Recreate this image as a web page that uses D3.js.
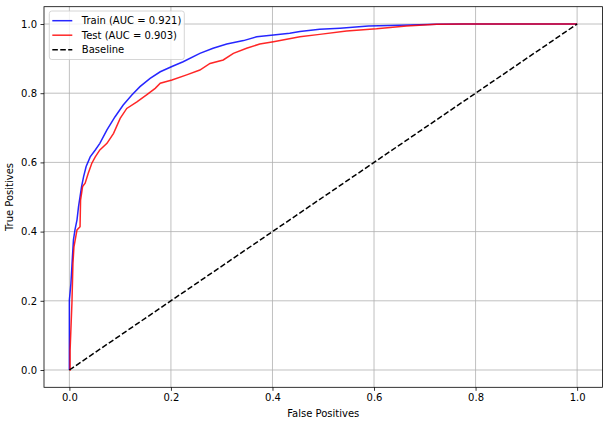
<!DOCTYPE html>
<html>
<head>
<meta charset="utf-8">
<script src="https://cdn.jsdelivr.net/npm/d3@7"></script>
<style>
  body { margin: 0; background: #fff; }
  text { font-family: "DejaVu Sans", sans-serif; font-size: 10px; fill: #000; }
</style>
</head>
<body>
<div id="chart"></div>
<script>
// ROC curves: [false positive rate, true positive rate]
var trainFpr = [0, 0.0, 0.0, 0.003, 0.006, 0.008, 0.011, 0.015, 0.018, 0.021, 0.024, 0.028, 0.033, 0.041, 0.051, 0.06, 0.074, 0.09, 0.106, 0.123, 0.139, 0.159, 0.179, 0.202, 0.224, 0.257, 0.283, 0.31, 0.343, 0.369, 0.402, 0.434, 0.454, 0.493, 0.533, 0.589, 0.671, 0.723, 0.776, 1.0]
var trainTpr = [0, 0.108, 0.202, 0.25, 0.327, 0.376, 0.405, 0.434, 0.472, 0.501, 0.53, 0.559, 0.588, 0.616, 0.636, 0.655, 0.694, 0.732, 0.766, 0.795, 0.819, 0.843, 0.862, 0.877, 0.891, 0.915, 0.93, 0.942, 0.952, 0.963, 0.968, 0.973, 0.978, 0.985, 0.988, 0.994, 0.997, 0.999, 1.0, 1.0]

var testFpr = [0, 0.0014, 0.0014, 0.005, 0.007, 0.009, 0.015, 0.021, 0.022, 0.026, 0.031, 0.037, 0.044, 0.051, 0.06, 0.074, 0.087, 0.1, 0.113, 0.133, 0.152, 0.169, 0.179, 0.202, 0.231, 0.257, 0.277, 0.303, 0.323, 0.349, 0.375, 0.402, 0.428, 0.454, 0.493, 0.546, 0.605, 0.664, 0.723, 0.776, 1.0]
var testTpr = [0, 0.0, 0.058, 0.193, 0.308, 0.356, 0.405, 0.414, 0.491, 0.53, 0.54, 0.568, 0.597, 0.616, 0.636, 0.655, 0.684, 0.727, 0.756, 0.775, 0.795, 0.814, 0.829, 0.838, 0.853, 0.867, 0.886, 0.896, 0.915, 0.93, 0.942, 0.949, 0.956, 0.963, 0.97, 0.98, 0.986, 0.994, 0.999, 1.0, 1.0]

var baseFpr = [0, 1]
var baseTpr = [0, 1]

var ticks = [0, 0.2, 0.4, 0.6, 0.8, 1.0]
var labels = ["Train (AUC = 0.921)", "Test (AUC = 0.903)", "Baseline"]

var width = 609, height = 425
var margin = {top: 6.7, right: 6.5, bottom: 37.7, left: 44}
var w = width - margin.left - margin.right
var h = height - margin.top - margin.bottom

var x = d3.scaleLinear().domain([-0.05, 1.05]).range([0, w])
var y = d3.scaleLinear().domain([-0.05, 1.05]).range([h, 0])

var svg = d3.select("#chart").append("svg")
    .attr("width", width)
    .attr("height", height)

var g = svg.append("g")
    .attr("transform", "translate(" + margin.left + "," + margin.top + ")")

// grid
g.append("g").selectAll("line").data(ticks).enter().append("line")
    .attr("x1", function(d) { return x(d) }).attr("x2", function(d) { return x(d) })
    .attr("y1", 0).attr("y2", h)
    .attr("stroke", "#b0b0b0").attr("stroke-width", 0.8)
g.append("g").selectAll("line").data(ticks).enter().append("line")
    .attr("y1", function(d) { return y(d) }).attr("y2", function(d) { return y(d) })
    .attr("x1", 0).attr("x2", w)
    .attr("stroke", "#b0b0b0").attr("stroke-width", 0.8)

var line = d3.line()
    .x(function(d) { return x(d[0]) })
    .y(function(d) { return y(d[1]) })

function pairs(a, b) { return a.map(function(v, i) { return [v, b[i]] }) }

g.append("path").datum(pairs(trainFpr, trainTpr))
    .attr("d", line).attr("fill", "none")
    .attr("stroke", "blue").attr("stroke-opacity", 0.85).attr("stroke-width", 1.5)
g.append("path").datum(pairs(testFpr, testTpr))
    .attr("d", line).attr("fill", "none")
    .attr("stroke", "red").attr("stroke-opacity", 0.85).attr("stroke-width", 1.5)
g.append("path").datum(pairs(baseFpr, baseTpr))
    .attr("d", line).attr("fill", "none")
    .attr("stroke", "black").attr("stroke-width", 1.5)
    .attr("stroke-dasharray", "5.55,2.4")

// axes
var xAxis = g.append("g").attr("transform", "translate(0," + h + ")")
    .call(d3.axisBottom(x).tickValues(ticks).tickFormat(d3.format(".1f")).tickSizeInner(3.5).tickSizeOuter(0).tickPadding(3.5))
var yAxis = g.append("g")
    .call(d3.axisLeft(y).tickValues(ticks).tickFormat(d3.format(".1f")).tickSizeInner(3.5).tickSizeOuter(0).tickPadding(3.5))
xAxis.select(".domain").remove()
yAxis.select(".domain").remove()
svg.selectAll(".tick line").attr("stroke", "#000").attr("stroke-width", 0.8)
svg.selectAll(".tick text").attr("font-size", 10).attr("font-family", "DejaVu Sans, sans-serif")

g.append("rect").attr("x", 0).attr("y", 0).attr("width", w).attr("height", h)
    .attr("fill", "none").attr("stroke", "#000").attr("stroke-width", 0.8)

g.append("text").attr("x", w / 2).attr("y", h + 29.5)
    .attr("text-anchor", "middle").text("False Positives")
g.append("text")
    .attr("transform", "translate(" + (-31) + "," + (h / 2) + ") rotate(-90)")
    .attr("text-anchor", "middle").text("True Positives")

// legend
var legend = svg.append("g").attr("transform", "translate(49.3,11)")
legend.append("rect").attr("width", 135).attr("height", 48.5).attr("rx", 2.5)
    .attr("fill", "white").attr("fill-opacity", 0.8)
    .attr("stroke", "#cccccc").attr("stroke-width", 0.8)
var legColors = ["blue", "red", "black"]
var rows = legend.selectAll(".row").data(labels).enter().append("g")
    .attr("transform", function(d, i) { return "translate(0," + (9.7 + i * 14.5) + ")" })
rows.append("line").attr("x1", 3).attr("x2", 23).attr("y1", 0).attr("y2", 0)
    .attr("stroke", function(d, i) { return legColors[i] })
    .attr("stroke-opacity", function(d, i) { return i < 2 ? 0.85 : 1 })
    .attr("stroke-width", 1.5)
    .attr("stroke-dasharray", function(d, i) { return i == 2 ? "5.55,2.4" : null })
rows.append("text").attr("x", 32.5).attr("y", 3.6).text(function(d) { return d })
</script>
</body>
</html>
